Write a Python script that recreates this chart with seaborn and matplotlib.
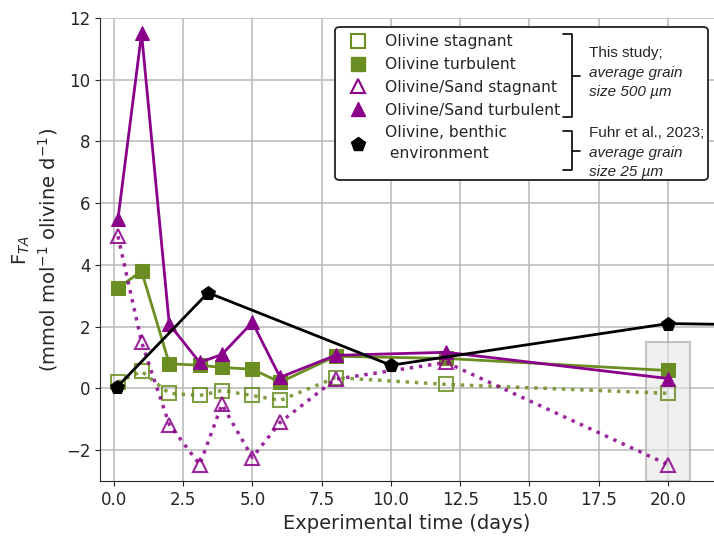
import matplotlib
matplotlib.use("Agg")
import matplotlib.pyplot as plt
import seaborn as sns
from matplotlib.lines import Line2D
from matplotlib.patches import FancyBboxPatch, Rectangle

# data
days = [0.15, 1, 2, 3.1, 3.9, 5, 6, 8, 12, 20]
olivine_stagnant = [0.2, 0.55, -0.16, -0.23, -0.07, -0.23, -0.39, 0.35, 0.13, -0.16]
olivine_turbulent = [3.25, 3.8, 0.8, 0.75, 0.68, 0.62, 0.2, 1.04, 0.97, 0.58]
sand_stagnant = [4.93, 1.5, -1.17, -2.47, -0.52, -2.24, -1.1, 0.3, 0.84, -2.47]
sand_turbulent = [5.5, 11.5, 2.08, 0.84, 1.1, 2.14, 0.36, 1.07, 1.17, 0.32]
fuhr_days = [0.1, 3.4, 10, 20, 28]
fuhr_rate = [0.03, 3.1, 0.75, 2.1, 2.0]

green = "#6b8e23"
purple = "#8b008b"

sns.set_style("ticks")
plt.rcParams['font.family'] = ['DejaVu Sans']

fig = plt.figure(figsize=(7.14, 5.37), dpi=100)
ax = fig.add_axes([100 / 714, 56 / 537, 614 / 714, 463 / 537])

ax.grid(True, color="#bdbdbd", lw=1.2, zorder=0)
ax.set_axisbelow(True)

# highlight box at day 20
ax.add_patch(Rectangle((19.2, -3), 1.6, 4.5, facecolor="#e6e6e6", edgecolor="#a0a0a0",
                       alpha=0.6, lw=1.5, zorder=1))

sns.lineplot(x=days, y=olivine_stagnant, ax=ax, color=green, ls=":", lw=2.5, marker="s",
             markersize=10.5, mfc="none", mec=green, mew=1.5, alpha=0.85, zorder=3)
sns.lineplot(x=days, y=olivine_turbulent, ax=ax, color=green, lw=2, marker="s",
             markersize=10.5, mec=green, zorder=3)
sns.lineplot(x=days, y=sand_stagnant, ax=ax, color=purple, ls=":", lw=2.5, marker="^",
             markersize=10.5, mfc="none", mec=purple, mew=1.5, alpha=0.85, zorder=4)
sns.lineplot(x=days, y=sand_turbulent, ax=ax, color=purple, lw=2, marker="^",
             markersize=10.5, mec=purple, zorder=4)
sns.lineplot(x=fuhr_days, y=fuhr_rate, ax=ax, color="black", lw=2, marker="p",
             markersize=10, mec="black", zorder=5)

ax.set_xlim(-0.5, 21.66)
ax.set_ylim(-3, 12)
ax.set_xticks([0, 2.5, 5, 7.5, 10, 12.5, 15, 17.5, 20])
ax.set_yticks([-2, 0, 2, 4, 6, 8, 10, 12])
ax.tick_params(labelsize=12)
ax.set_xlabel("Experimental time (days)", fontsize=14)
ax.set_ylabel("F$_{TA}$\n(mmol mol$^{-1}$ olivine d$^{-1}$)", fontsize=14)
sns.despine(ax=ax)

# legend
handles = [
    Line2D([], [], ls="none", marker="s", ms=10, mfc="none", mec=green, mew=1.5),
    Line2D([], [], ls="none", marker="s", ms=10, color=green),
    Line2D([], [], ls="none", marker="^", ms=10, mfc="none", mec=purple, mew=1.5),
    Line2D([], [], ls="none", marker="^", ms=10, color=purple),
    Line2D([], [], ls="none", marker="p", ms=10, color="black"),
]
labels = ["Olivine stagnant", "Olivine turbulent", "Olivine/Sand stagnant",
          "Olivine/Sand turbulent", "Olivine, benthic\n environment"]
leg = ax.legend(handles, labels, frameon=False, loc="upper left", bbox_to_anchor=(0.385, 0.995),
                fontsize=11.2, handlelength=1, handletextpad=1.25, labelspacing=0.5)
leg.get_texts()[-1].set_linespacing(1.45)
leg.set_zorder(10)


def px(x, y):
    return (x - 100) / 614, (481 - y) / 463


box_x0, box_y0 = px(335, 180)
box_x1, box_y1 = px(708, 27)
ax.add_patch(FancyBboxPatch((box_x0, box_y0), box_x1 - box_x0, box_y1 - box_y0,
                            boxstyle="round,pad=0,rounding_size=0.008", transform=ax.transAxes,
                            facecolor="white", edgecolor="#222222", lw=1.3, zorder=6))


def bracket(top, bottom):
    pts = [px(563, top), px(572, top), px(572, bottom), px(563, bottom)]
    ax.plot([p[0] for p in pts], [p[1] for p in pts], transform=ax.transAxes,
            color="black", lw=1.2, zorder=8, clip_on=False)
    mid = (top + bottom) / 2
    a, b = px(572, mid), px(580, mid)
    ax.plot([a[0], b[0]], [a[1], b[1]], transform=ax.transAxes, color="black", lw=1.2,
            zorder=8, clip_on=False)


bracket(34, 117)
bracket(131, 170)

notes = [("This study;", 53, "normal"), ("average grain", 73, "italic"),
         ("size 500 µm", 92, "italic"), ("Fuhr et al., 2023;", 133, "normal"),
         ("average grain", 153, "italic"), ("size 25 µm", 172, "italic")]
for text, y, style in notes:
    x_ax, y_ax = px(589, y)
    ax.text(x_ax, y_ax, text, transform=ax.transAxes, fontsize=11, style=style,
            family=["Liberation Sans"], va="center", ha="left", zorder=9)

fig.savefig("out.png", dpi=100)
